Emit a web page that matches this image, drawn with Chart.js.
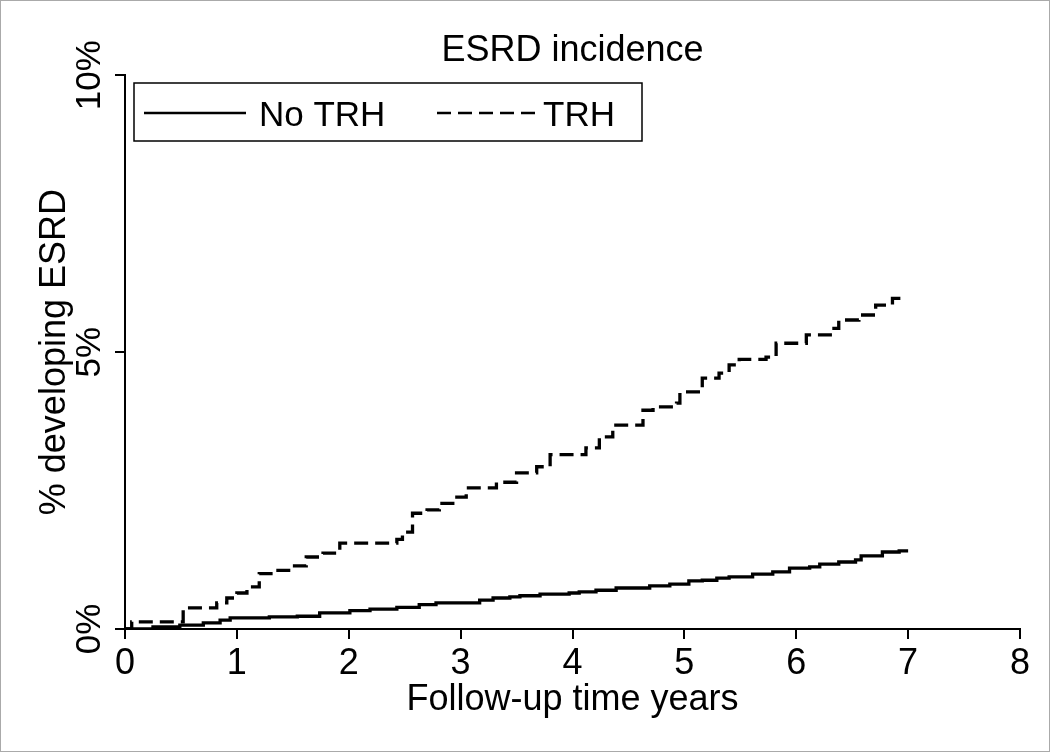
<!DOCTYPE html>
<html>
<head>
<meta charset="utf-8">
<script src="https://cdn.jsdelivr.net/npm/chart.js@4/dist/chart.umd.min.js"></script>
<style>
  html, body { margin: 0; padding: 0; background: #fff; }
  #wrap { width: 1050px; height: 752px; }
</style>
</head>
<body>
<div id="wrap"><canvas id="chartCanvas" width="1050" height="752"></canvas></div>
<script>
// Kaplan-Meier style cumulative incidence (years, %)
let noTrhTimes = [0, 0.25, 0.49, 0.7, 0.85, 0.94, 1.29, 1.54, 1.74, 2.01, 2.19, 2.43, 2.63, 2.78, 3.17, 3.29, 3.44, 3.53, 3.71, 3.97,
    4.06, 4.21, 4.39, 4.69, 4.87, 5.04, 5.16, 5.29, 5.4, 5.61, 5.79, 5.94, 6.12, 6.21, 6.38, 6.53, 6.58, 6.77, 6.92, 7.0];
let noTrhValues = [0, 0.04, 0.07, 0.11, 0.16, 0.2, 0.22, 0.23, 0.29, 0.33, 0.36, 0.39, 0.44, 0.47, 0.52, 0.56, 0.58, 0.6, 0.63, 0.65,
    0.67, 0.7, 0.74, 0.78, 0.81, 0.87, 0.88, 0.92, 0.94, 0.99, 1.03, 1.1, 1.12, 1.17, 1.21, 1.25, 1.32, 1.39, 1.41, 1.41];

let trhTimes = [0, 0.06, 0.52, 0.82, 0.91, 1.0, 1.09, 1.2, 1.32, 1.5, 1.62, 1.77, 1.92, 2.43, 2.48, 2.57, 2.7, 2.81, 2.93, 3.05,
    3.32, 3.5, 3.68, 3.8, 4.12, 4.24, 4.36, 4.63, 4.72, 4.93, 4.96, 5.16, 5.31, 5.4, 5.49, 5.73, 5.82, 6.09, 6.32, 6.38,
    6.56, 6.71, 6.86, 6.94];
let trhValues = [0, 0.13, 0.38, 0.47, 0.56, 0.65, 0.76, 1.0, 1.06, 1.14, 1.3, 1.37, 1.55, 1.62, 1.75, 2.09, 2.15, 2.27, 2.38, 2.55,
    2.65, 2.82, 2.93, 3.15, 3.27, 3.47, 3.68, 3.95, 4.01, 4.08, 4.28, 4.53, 4.62, 4.77, 4.87, 4.91, 5.16, 5.31, 5.43, 5.58,
    5.67, 5.85, 5.97, 5.97];

let seriesNames = ["No TRH", "TRH"];
let xTicks = [0, 1, 2, 3, 4, 5, 6, 7, 8];
let yTicks = [0, 5, 10];

const FONT = "'Liberation Sans', Arial, sans-serif";

function toPoints(times, values) {
    return times.map((t, i) => ({ x: t, y: values[i] }));
}

// rotated y tick labels, legend box and a thin frame
let extrasPlugin = {
    id: "extras",
    afterDraw: function (chart) {
        let ctx = chart.ctx;
        let yScale = chart.scales.y;
        ctx.save();
        ctx.fillStyle = "#000";
        ctx.font = "35px " + FONT;
        yScale.ticks.forEach(function (tick) {
            let py = yScale.getPixelForValue(tick.value);
            ctx.save();
            ctx.translate(100, py);
            ctx.rotate(-Math.PI / 2);
            ctx.textAlign = "center";
            ctx.textBaseline = "alphabetic";
            ctx.fillText(tick.value + "%", 0, 0);
            ctx.restore();
        });

        // legend
        ctx.strokeStyle = "#000";
        ctx.lineWidth = 1.5;
        ctx.strokeRect(134, 83, 508, 58);
        let items = [
            { ds: chart.data.datasets[0], x0: 144, x1: 246, tx: 259 },
            { ds: chart.data.datasets[1], x0: 437, x1: 537, tx: 543 }
        ];
        items.forEach(function (it) {
            ctx.save();
            ctx.lineWidth = 2.5;
            ctx.setLineDash(it.ds.borderDash || []);
            ctx.beginPath();
            ctx.moveTo(it.x0, 113);
            ctx.lineTo(it.x1, 113);
            ctx.stroke();
            ctx.restore();
            ctx.textAlign = "left";
            ctx.textBaseline = "alphabetic";
            ctx.fillText(it.ds.label, it.tx, 125.5);
        });

        ctx.strokeStyle = "#aaa";
        ctx.lineWidth = 1;
        ctx.strokeRect(0.5, 0.5, chart.width - 1, chart.height - 1);
        ctx.restore();
    }
};

let ctx = document.getElementById("chartCanvas").getContext("2d");

let chart = new Chart(ctx, {
    type: "line",
    data: {
        datasets: [
            {
                label: seriesNames[0],
                data: toPoints(noTrhTimes, noTrhValues),
                borderColor: "#000",
                borderWidth: 3.3,
                stepped: "before",
                pointRadius: 0,
                fill: false
            },
            {
                label: seriesNames[1],
                data: toPoints(trhTimes, trhValues),
                borderColor: "#000",
                borderWidth: 3.3,
                borderDash: [14, 7],
                stepped: "before",
                pointRadius: 0,
                fill: false
            }
        ]
    },
    options: {
        responsive: false,
        animation: false,
        layout: { padding: { left: 0, right: 30, top: 0, bottom: 0 } },
        plugins: {
            legend: { display: false },
            tooltip: { enabled: false },
            title: {
                display: true,
                text: "ESRD incidence",
                color: "#000",
                fullSize: false,
                font: { family: FONT, size: 36, weight: "normal" },
                padding: { top: 29, bottom: 3 }
            }
        },
        scales: {
            x: {
                type: "linear",
                min: 0,
                max: 8,
                afterBuildTicks: function (scale) {
                    scale.ticks = xTicks.map(v => ({ value: v }));
                },
                afterFit: function (scale) { scale.height = 123; },
                ticks: {
                    color: "#000",
                    padding: 3,
                    maxRotation: 0,
                    font: { family: FONT, size: 36 }
                },
                grid: { drawOnChartArea: false, drawTicks: true, tickLength: 10, color: "#000", lineWidth: 2 },
                border: { display: true, color: "#000", width: 2 },
                title: {
                    display: true,
                    text: "Follow-up time years",
                    color: "#000",
                    font: { family: FONT, size: 36 },
                    padding: { top: 0, bottom: 30 }
                }
            },
            y: {
                type: "linear",
                min: 0,
                max: 10,
                afterBuildTicks: function (scale) {
                    scale.ticks = yTicks.map(v => ({ value: v }));
                },
                afterFit: function (scale) { scale.width = 125; },
                ticks: { display: false },
                grid: { drawOnChartArea: false, drawTicks: true, tickLength: 10, color: "#000", lineWidth: 2 },
                border: { display: true, color: "#000", width: 2 },
                title: {
                    display: true,
                    text: "% developing ESRD",
                    color: "#000",
                    font: { family: FONT, size: 36 },
                    padding: { top: 33, bottom: 0 }
                }
            }
        }
    },
    plugins: [extrasPlugin]
});
</script>
</body>
</html>
